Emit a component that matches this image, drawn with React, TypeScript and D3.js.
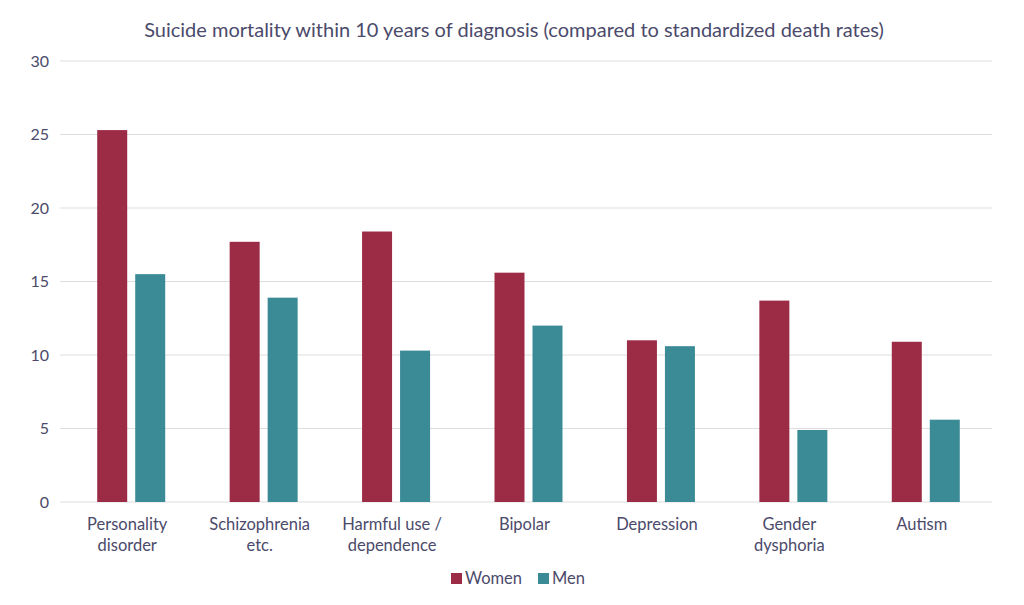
import React from "react";
import * as d3 from "d3";

const categories = [
  ["Personality", "disorder"],
  ["Schizophrenia", "etc."],
  ["Harmful use /", "dependence"],
  ["Bipolar"],
  ["Depression"],
  ["Gender", "dysphoria"],
  ["Autism"],
];
const women = [25.3, 17.7, 18.4, 15.6, 11.0, 13.7, 10.9];
const men = [15.5, 13.9, 10.3, 12.0, 10.6, 4.9, 5.6];
const yTicks = [0, 5, 10, 15, 20, 25, 30];
const seriesNames = ["Women", "Men"];
const colors = ["#9c2b46", "#3b8b97"];
const title = "Suicide mortality within 10 years of diagnosis (compared to standardized death rates)";

export default function App() {
  const W = 1024, H = 605;
  const left = 65, right = 992, top = 61, bottom = 502;
  const font = "Lato, 'Open Sans', sans-serif";
  const textColor = "#4b4a6b";
  const idx = categories.map((_, i) => String(i));
  const x = d3.scaleBand().domain(idx).range([left, right]).paddingInner(0).paddingOuter(0);
  const y = d3.scaleLinear().domain([0, 30]).range([bottom, top]);
  const barW = 30, gap = 8;
  const series = [women, men];
  return (
    <svg width={W} height={H} style={{ position: "absolute", left: 0, top: 0, background: "#fff" }} fontFamily={font}>
      <text x={514} y={37} textAnchor="middle" fontSize={20} fill={textColor}>{title}</text>
      {yTicks.map((t) => (
        <g key={t}>
          <line x1={60} x2={992} y1={y(t)} y2={y(t)} stroke="#dedede" strokeWidth={1.2} />
          <text x={49} y={y(t) + 5.5} textAnchor="end" fontSize={16} fill={textColor}>{t}</text>
        </g>
      ))}
      {idx.map((k, i) => {
        const cx = (x(k) as number) + x.bandwidth() / 2;
        return (
          <g key={k}>
            {series.map((s, j) => {
              const bx = j === 0 ? cx - gap / 2 - barW : cx + gap / 2;
              return <rect key={j} x={bx} y={y(s[i])} width={barW} height={y(0) - y(s[i])} fill={colors[j]} />;
            })}
            {categories[i].map((line, li) => (
              <text key={li} x={cx - 4} y={530 + li * 21} textAnchor="middle" fontSize={16.5} fill={textColor}>{line}</text>
            ))}
          </g>
        );
      })}
      <g>
        <rect x={451} y={573} width={11} height={11} fill={colors[0]} />
        <text x={465} y={584} fontSize={16.5} fill={textColor}>{seriesNames[0]}</text>
        <rect x={538} y={573} width={11} height={11} fill={colors[1]} />
        <text x={552} y={584} fontSize={16.5} fill={textColor}>{seriesNames[1]}</text>
      </g>
    </svg>
  );
}
